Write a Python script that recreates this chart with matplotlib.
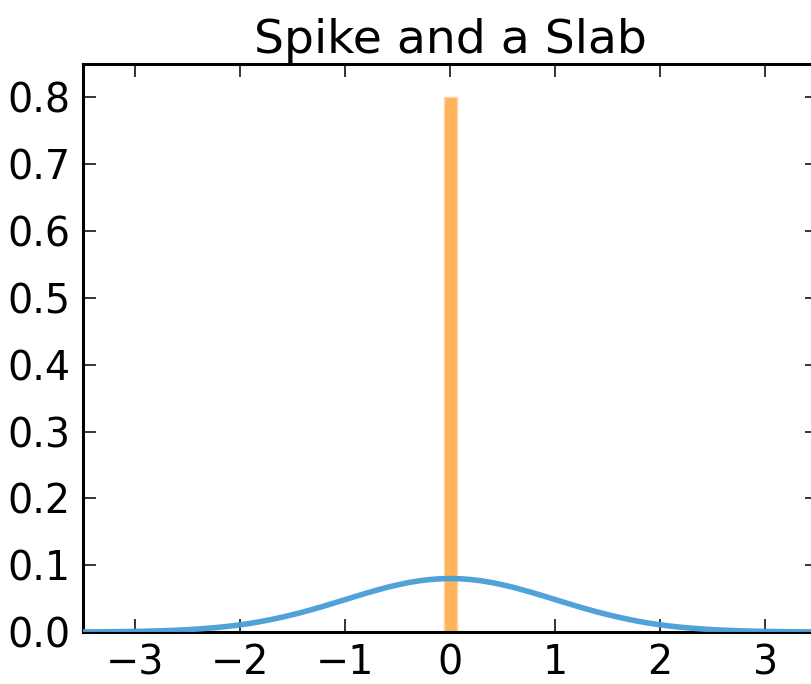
import matplotlib
matplotlib.use("Agg")
import matplotlib.pyplot as plt

# slab: smooth density read at 0.1 steps
slab_x = [round(-3.5 + 0.1 * i, 1) for i in range(71)]
slab_y = [0.0002, 0.0002, 0.0003, 0.0005, 0.0007, 0.0009, 0.0012, 0.0016, 0.0021, 0.0027,
          0.0035, 0.0045, 0.0057, 0.0071, 0.0088, 0.0108, 0.0131, 0.0158, 0.0189, 0.0223,
          0.0260, 0.0300, 0.0344, 0.0389, 0.0437, 0.0485, 0.0534, 0.0581, 0.0626, 0.0669,
          0.0706, 0.0739, 0.0765, 0.0784, 0.0796,
          0.0800,
          0.0796, 0.0784, 0.0765, 0.0739, 0.0706,
          0.0669, 0.0626, 0.0581, 0.0534, 0.0485, 0.0437, 0.0389, 0.0344, 0.0300, 0.0260,
          0.0223, 0.0189, 0.0158, 0.0131, 0.0108, 0.0088, 0.0071, 0.0057, 0.0045, 0.0035,
          0.0027, 0.0021, 0.0016, 0.0012, 0.0009, 0.0007, 0.0005, 0.0003, 0.0002, 0.0002]

# spike: point mass at zero
spike_x = [0.0]
spike_h = [0.8]

xticks = [-3, -2, -1, 0, 1, 2, 3]
yticks = [0.0, 0.1, 0.2, 0.3, 0.4, 0.5, 0.6, 0.7, 0.8]

W, H = 811, 684
dpi = 100
fig = plt.figure(figsize=(W / dpi, H / dpi), dpi=dpi)
ax = fig.add_axes([83 / W, 52 / H, (817.5 - 83) / W, (632 - 64) / H])

ax.bar(spike_x, spike_h, width=0.12, color="#ffb35c", edgecolor="#ffd3a0", linewidth=1, zorder=2)
ax.plot(slab_x, slab_y, color="#4a9fd8", lw=4, alpha=0.97, zorder=3)

ax.set_xlim(-3.5, 3.5)
ax.set_ylim(0, 0.85)
ax.set_xticks(xticks)
ax.set_yticks(yticks)
ax.set_xticklabels([f"{t}".replace("-", "\u2212") for t in xticks])
ax.set_yticklabels([f"{t:.1f}" for t in yticks])

ax.tick_params(direction="in", length=9.4, width=1.1, top=True, right=True,
               labelsize=28.5, pad=9)
ax.tick_params(axis="x", pad=8)
for s in ax.spines.values():
    s.set_linewidth(2.2)

ax.set_title("Spike and a Slab", fontsize=34, pad=8)

fig.savefig("out.png", dpi=dpi)
